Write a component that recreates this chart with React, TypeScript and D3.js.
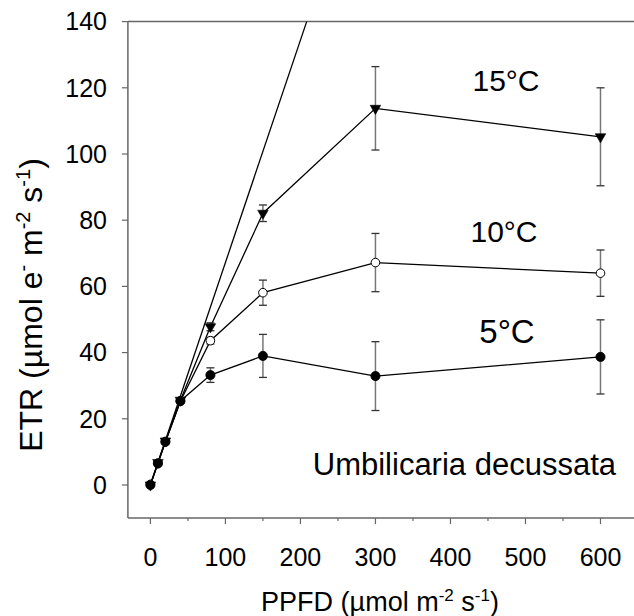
import React from "react";
import * as d3 from "d3";

const ppfd = [0, 10, 20, 40, 80, 150, 300, 600];
const etr15 = [0, 6.8, 13.3, 25.6, 47.8, 82.1, 113.8, 105.2];
const err15 = [0, 0, 0, 0.5, 1.2, 2.5, 12.6, 14.8];
const etr10 = [0.2, 6.6, 13.0, 25.3, 43.6, 58.1, 67.2, 64.0];
const err10 = [0, 0, 0, 0.5, 1.0, 3.8, 8.8, 7.0];
const etr5 = [0, 6.5, 13.1, 25.4, 33.2, 39.0, 32.9, 38.7];
const err5 = [0, 0, 0, 0.5, 2.2, 6.5, 10.4, 11.2];
const initialSlope = 0.672;
const xTicks = [0, 100, 200, 300, 400, 500, 600];
const xMinorTicks = [50, 150, 250, 350, 450, 550];
const yTicks = [0, 20, 40, 60, 80, 100, 120, 140];

const FONT = "'Liberation Sans', Arial, sans-serif";
const AXIS = "#666";

export default function App() {
  const x = d3.scaleLinear().domain([-30, 650]).range([127.9, 638]);
  const y = d3.scaleLinear().domain([-10, 140]).range([518.1, 21.6]);
  const line = d3
    .line<number>()
    .x((_, i) => x(ppfd[i]))
    .y((d) => y(d));

  const series = [
    { key: "10", vals: etr10, errs: err10, marker: "open" },
    { key: "5", vals: etr5, errs: err5, marker: "filled" },
    { key: "15", vals: etr15, errs: err15, marker: "tri" },
  ];

  const xEnd = 140 / initialSlope;
  const tri = d3.symbol().type(d3.symbolTriangle).size(48)();

  return (
    <svg
      width={634}
      height={616}
      style={{ position: "absolute", left: 0, top: 0, background: "#fff" }}
      fontFamily={FONT}
    >
      {/* frame */}
      <line x1={x(-30)} x2={640} y1={y(140)} y2={y(140)} stroke={AXIS} strokeWidth={1.5} />
      <line x1={x(-30)} x2={640} y1={y(-10)} y2={y(-10)} stroke={AXIS} strokeWidth={1.5} />
      <line x1={x(-30)} x2={x(-30)} y1={y(140)} y2={y(-10)} stroke={AXIS} strokeWidth={1.5} />

      {/* y ticks */}
      {yTicks.map((t) => (
        <g key={"y" + t}>
          <line x1={x(-30) - 6} x2={x(-30)} y1={y(t)} y2={y(t)} stroke={AXIS} strokeWidth={1.2} />
          <text x={107} y={y(t)} dy="0.35em" textAnchor="end" fontSize={25} fill="#000">
            {t}
          </text>
        </g>
      ))}

      {/* x ticks */}
      {xTicks.map((t) => (
        <g key={"x" + t}>
          <line x1={x(t)} x2={x(t)} y1={y(-10)} y2={y(-10) + 6} stroke={AXIS} strokeWidth={1.2} />
          <text x={x(t)} y={566} textAnchor="middle" fontSize={25} fill="#000">
            {t}
          </text>
        </g>
      ))}
      {xMinorTicks.map((t) => (
        <line key={"m" + t} x1={x(t)} x2={x(t)} y1={y(-10)} y2={y(-10) + 3} stroke={AXIS} strokeWidth={1.2} />
      ))}

      {/* initial slope line */}
      <line x1={x(0)} y1={y(0)} x2={x(xEnd)} y2={y(140)} stroke="#000" strokeWidth={1.3} />

      {/* series lines */}
      {series.map((s) => (
        <path key={"l" + s.key} d={line(s.vals) || ""} fill="none" stroke="#000" strokeWidth={1.3} />
      ))}

      {/* error bars */}
      {series.map((s) =>
        s.vals.map((v, i) =>
          s.errs[i] > 0.8 ? (
            <g key={"e" + s.key + i}>
              <line x1={x(ppfd[i])} x2={x(ppfd[i])} y1={y(v + s.errs[i])} y2={y(v - s.errs[i])} stroke="#777" strokeWidth={1.5} />
              <line x1={x(ppfd[i]) - 4} x2={x(ppfd[i]) + 4} y1={y(v + s.errs[i])} y2={y(v + s.errs[i])} stroke="#333" strokeWidth={1.3} />
              <line x1={x(ppfd[i]) - 4} x2={x(ppfd[i]) + 4} y1={y(v - s.errs[i])} y2={y(v - s.errs[i])} stroke="#333" strokeWidth={1.3} />
            </g>
          ) : null
        )
      )}

      {/* markers */}
      {series.map((s) =>
        s.vals.map((v, i) => {
          const cx = x(ppfd[i]);
          const cy = y(v);
          if (s.marker === "open")
            return <circle key={"p" + s.key + i} cx={cx} cy={cy} r={4.3} fill="#fff" stroke="#000" strokeWidth={1} />;
          if (s.marker === "filled")
            return <circle key={"p" + s.key + i} cx={cx} cy={cy} r={4.6} fill="#000" stroke="#000" strokeWidth={0.8} />;
          return (
            <path
              key={"p" + s.key + i}
              d={tri || ""}
              transform={`translate(${cx},${cy}) rotate(180)`}
              fill="#000"
              stroke="#000"
              strokeWidth={0.6}
            />
          );
        })
      )}

      {/* annotations */}
      <text x={506} y={90.5} textAnchor="middle" fontSize={30} fill="#000">15°C</text>
      <text x={504} y={241.5} textAnchor="middle" fontSize={30} fill="#000">10°C</text>
      <text x={507} y={342.5} textAnchor="middle" fontSize={33} fill="#000">5°C</text>
      <text x={616} y={474.5} textAnchor="end" fontSize={31} fill="#000">Umbilicaria decussata</text>

      {/* axis titles */}
      <text x={380} y={611} textAnchor="middle" fontSize={27} fill="#000">
        PPFD (µmol m
        <tspan fontSize={17} dy={-10}>-2</tspan>
        <tspan dy={10}> s</tspan>
        <tspan fontSize={17} dy={-10}>-1</tspan>
        <tspan dy={10}>)</tspan>
      </text>
      <text
        transform={`translate(42,305) rotate(-90)`}
        textAnchor="middle"
        fontSize={32}
        fill="#000"
      >
        ETR (µmol e
        <tspan fontSize={20} dy={-12}>-</tspan>
        <tspan dy={12}> m</tspan>
        <tspan fontSize={20} dy={-12}>-2</tspan>
        <tspan dy={12}> s</tspan>
        <tspan fontSize={20} dy={-12}>-1</tspan>
        <tspan dy={12}>)</tspan>
      </text>
    </svg>
  );
}
